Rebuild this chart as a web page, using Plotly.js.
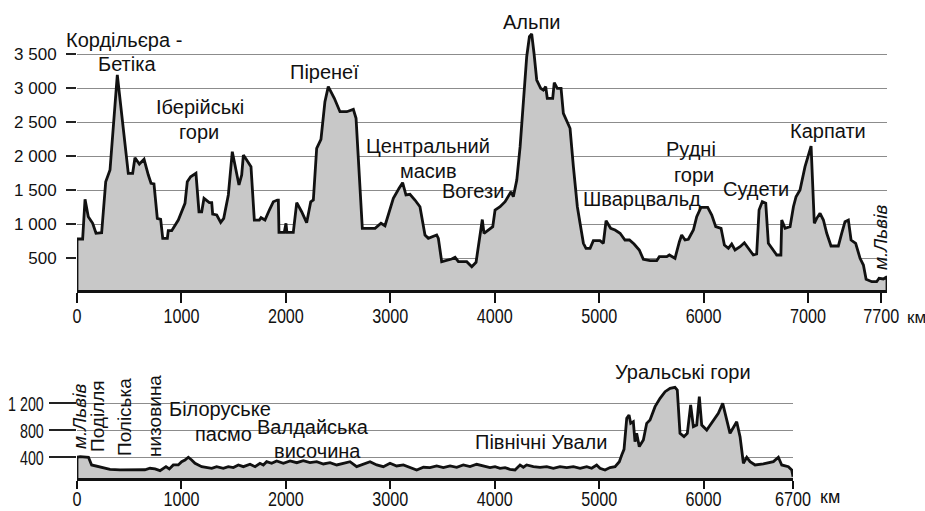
<!DOCTYPE html>
<html>
<head>
<meta charset="utf-8">
<script src="https://cdn.plot.ly/plotly-3.0.1.min.js"></script>
<style>html,body{margin:0;padding:0;background:#fff;}#chart{width:925px;height:511px;}</style>
</head>
<body>
<div id="chart"></div>
<script>
// ---- Data: elevation profiles (km from start, metres) ----
const topKm = [0, 0, 54, 77, 108, 150, 182, 236, 275, 316, 386, 435, 491, 533, 555, 597, 642, 683, 709, 737, 769, 801, 821, 865, 874, 907, 970, 1034, 1056, 1088, 1139, 1168, 1194, 1216, 1248, 1267, 1290, 1299, 1338, 1376, 1405, 1449, 1487, 1523, 1551, 1577, 1593, 1625, 1666, 1698, 1746, 1762, 1800, 1842, 1880, 1918, 1928, 1934, 1985, 2001, 2010, 2071, 2104, 2151, 2199, 2238, 2263, 2295, 2336, 2374, 2406, 2464, 2518, 2583, 2646, 2672, 2732, 2854, 2911, 2949, 3029, 3084, 3118, 3150, 3188, 3236, 3284, 3332, 3364, 3444, 3460, 3492, 3556, 3588, 3620, 3652, 3732, 3780, 3821, 3850, 3881, 3897, 3939, 3981, 4003, 4051, 4099, 4130, 4156, 4178, 4211, 4243, 4274, 4306, 4332, 4354, 4376, 4402, 4440, 4465, 4488, 4503, 4555, 4570, 4599, 4635, 4657, 4695, 4721, 4753, 4791, 4817, 4849, 4874, 4913, 4944, 5008, 5040, 5066, 5110, 5152, 5200, 5247, 5290, 5334, 5384, 5423, 5487, 5551, 5576, 5647, 5672, 5726, 5768, 5790, 5822, 5854, 5902, 5934, 5975, 6039, 6078, 6116, 6167, 6199, 6237, 6269, 6301, 6349, 6390, 6429, 6476, 6508, 6531, 6562, 6595, 6620, 6658, 6700, 6740, 6748, 6780, 6828, 6860, 6885, 6923, 6971, 7029, 7060, 7083, 7115, 7147, 7179, 7220, 7290, 7322, 7354, 7386, 7412, 7456, 7498, 7530, 7556, 7610, 7657, 7680, 7721, 7756, 7756];
const topM = [0, 784, 784, 1368, 1112, 1015, 868, 876, 1626, 1798, 3196, 2534, 1750, 1750, 1979, 1887, 1956, 1725, 1603, 1593, 1088, 1074, 794, 794, 906, 906, 1063, 1309, 1626, 1700, 1750, 1185, 1185, 1382, 1332, 1318, 1318, 1151, 1137, 1029, 1088, 1431, 2068, 1798, 1578, 1725, 2019, 1946, 1847, 1063, 1063, 1097, 1063, 1210, 1332, 1357, 1357, 882, 882, 1015, 882, 882, 1318, 1185, 1024, 1332, 1357, 2118, 2250, 2803, 3024, 2853, 2656, 2656, 2691, 2559, 941, 941, 1015, 979, 1382, 1529, 1612, 1431, 1441, 1357, 1259, 843, 794, 843, 794, 450, 475, 490, 515, 450, 450, 376, 441, 721, 1070, 868, 916, 965, 1210, 1259, 1332, 1406, 1479, 1406, 1651, 2141, 2876, 3465, 3759, 3799, 3515, 3122, 3000, 2975, 3024, 2853, 2853, 3082, 3000, 3000, 2632, 2485, 2412, 1847, 1259, 1015, 721, 647, 647, 759, 759, 721, 1053, 941, 916, 868, 769, 769, 710, 622, 485, 465, 465, 524, 524, 549, 500, 744, 843, 769, 780, 916, 1112, 1250, 1250, 1137, 965, 941, 696, 647, 710, 622, 671, 729, 647, 549, 563, 1210, 1332, 1309, 721, 632, 549, 549, 1063, 941, 965, 1259, 1406, 1504, 1847, 2151, 1015, 1088, 1162, 1063, 868, 681, 681, 868, 1038, 1063, 769, 721, 500, 401, 191, 156, 156, 206, 196, 229, 0];

const botKm = [0, 0, 30, 60, 110, 140, 172, 236, 316, 412, 572, 650, 699, 747, 795, 827, 852, 884, 922, 970, 1002, 1034, 1066, 1098, 1130, 1194, 1242, 1290, 1337, 1401, 1449, 1497, 1545, 1593, 1657, 1705, 1752, 1784, 1816, 1864, 1912, 1976, 2040, 2104, 2167, 2231, 2295, 2359, 2423, 2487, 2550, 2614, 2678, 2742, 2806, 2870, 2933, 2997, 3061, 3125, 3189, 3253, 3317, 3380, 3444, 3508, 3572, 3636, 3699, 3763, 3827, 3891, 3955, 4003, 4051, 4099, 4146, 4194, 4242, 4274, 4306, 4370, 4434, 4498, 4561, 4625, 4689, 4753, 4817, 4881, 4928, 4976, 5008, 5056, 5104, 5152, 5193, 5216, 5238, 5264, 5286, 5302, 5327, 5343, 5359, 5384, 5423, 5455, 5487, 5535, 5583, 5631, 5679, 5726, 5748, 5774, 5812, 5844, 5876, 5902, 5934, 5959, 5982, 6030, 6094, 6141, 6183, 6221, 6253, 6317, 6349, 6381, 6413, 6445, 6493, 6572, 6668, 6716, 6748, 6812, 6844, 6856];
const botM = [0, 400, 410, 405, 400, 286, 276, 252, 222, 212, 212, 215, 237, 227, 202, 237, 262, 227, 286, 286, 335, 360, 400, 360, 311, 261, 252, 237, 261, 237, 261, 247, 286, 261, 296, 261, 311, 286, 335, 311, 345, 311, 345, 320, 350, 320, 335, 301, 320, 286, 311, 335, 261, 301, 335, 286, 261, 311, 271, 286, 252, 212, 252, 247, 271, 247, 271, 252, 286, 261, 296, 271, 247, 261, 237, 247, 222, 212, 286, 252, 286, 261, 252, 261, 237, 261, 247, 261, 237, 261, 237, 286, 237, 212, 247, 261, 335, 434, 518, 977, 1026, 903, 928, 632, 755, 558, 656, 903, 952, 1150, 1273, 1372, 1421, 1436, 1397, 755, 705, 755, 1174, 853, 878, 1298, 878, 804, 952, 1051, 1199, 952, 755, 927, 705, 311, 400, 335, 286, 301, 335, 400, 286, 261, 212, 110];

const topYTicks = [500, 1000, 1500, 2000, 2500, 3000, 3500];
const topYText = ['500', '1 000', '1 500', '2 000', '2 500', '3 000', '3 500'];
const topXTicks = [0, 1000, 2000, 3000, 4000, 5000, 6000, 7000, 7700];
const topXText = ['0', '1000', '2000', '3000', '4000', '5000', '6000', '7000', '7700'];
const botYTicks = [400, 800, 1200];
const botYText = ['400', '800', '1 200'];
const botXText = ['0', '1000', '2000', '3000', '4000', '5000', '6000', '6700'];
const botXTicks = [0, 1000, 2000, 3000, 4000, 5000, 6000, botKm[botKm.length - 1]];

const topLabels = ['Кордільєра -', 'Бетіка', 'Іберійські', 'гори', 'Піренеї', 'Центральний', 'масив', 'Вогези', 'Альпи', 'Шварцвальд', 'Рудні', 'гори', 'Судети', 'Карпати'];
const botLabels = ['Білоруське', 'пасмо', 'Валдайська', 'височина', 'Північні Ували', 'Уральські гори'];
const vertLabels = ['<i>м.Львів</i>', '<i>м.Львів</i>', 'Поділля', 'Поліська', 'низовина'];
const unitLabel = 'км';

// ---- Layout helpers (pixel positions of text) ----
const W = 925, H = 511, L = 77, R = 38;
const PW = W - L - R;
const px = x => (x - L) / PW;
const py = y => 1 - y / H;

const sans = 'Liberation Sans, Arial, Helvetica, sans-serif';

const topPos = [[124, 40], [127, 64], [200, 107], [199, 132], [324, 72], [428, 146], [428, 171], [473, 191], [531, 22], [642, 199], [691, 149], [694, 175], [756, 189], [828, 131]];
const botPos = [[220, 409], [223, 434], [313, 427], [317, 451], [541, 442], [683, 372]];
const vertPos = [[880, 238], [79, 417], [97, 416], [124, 417], [154, 416]];

const annotations = [];
topLabels.forEach((t, i) => annotations.push({text: t, xref: 'paper', yref: 'paper', x: px(topPos[i][0]), y: py(topPos[i][1]), xanchor: 'center', yanchor: 'middle', showarrow: false, font: {family: sans, size: 20, color: '#111'}}));
botLabels.forEach((t, i) => annotations.push({text: t, xref: 'paper', yref: 'paper', x: px(botPos[i][0]), y: py(botPos[i][1]), xanchor: 'center', yanchor: 'middle', showarrow: false, font: {family: sans, size: 20, color: '#111'}}));
vertLabels.forEach((t, i) => annotations.push({text: t, xref: 'paper', yref: 'paper', x: px(vertPos[i][0]), y: py(vertPos[i][1]), xanchor: 'center', yanchor: 'middle', textangle: -90, showarrow: false, font: {family: sans, size: 19, color: '#111'}}));
annotations.push({text: unitLabel, xref: 'paper', yref: 'paper', x: px(916), y: py(317), xanchor: 'center', yanchor: 'middle', showarrow: false, font: {family: sans, size: 17, color: '#111'}});
annotations.push({text: unitLabel, xref: 'paper', yref: 'paper', x: px(830), y: py(497), xanchor: 'center', yanchor: 'middle', showarrow: false, font: {family: sans, size: 18, color: '#111'}});

const areaStyle = {mode: 'lines', fill: 'tozeroy', fillcolor: '#c8c8c8', line: {color: '#111', width: 2.8}, hoverinfo: 'skip'};

const traces = [
  Object.assign({x: topKm, y: topM, xaxis: 'x', yaxis: 'y'}, areaStyle),
  Object.assign({x: botKm, y: botM, xaxis: 'x2', yaxis: 'y2'}, areaStyle)
];

const topBottomPx = 290, topTopPx = 15, botBottomPx = 478, botTopPx = 365;
const layout = {
  width: W, height: H,
  margin: {l: L, r: R, t: 0, b: 0},
  paper_bgcolor: '#fff', plot_bgcolor: 'rgba(0,0,0,0)',
  showlegend: false,
  xaxis: {domain: [0, 1], anchor: 'y', range: [0, 7756], tickvals: topXTicks, ticktext: topXText,
    ticks: 'outside', ticklen: 10, tickwidth: 2, tickcolor: '#111', showline: true, linewidth: 3, linecolor: '#111',
    showgrid: false, zeroline: false, tickfont: {family: sans, size: 21, color: '#111'}, ticklabelstandoff: -5},
  yaxis: {domain: [py(topBottomPx), py(topTopPx)], anchor: 'x', range: [34, 4078], tickvals: topYTicks, ticktext: topYText,
    ticks: 'outside', ticklen: 10, tickwidth: 2, tickcolor: '#222', showline: false, zeroline: false,
    showgrid: true, gridcolor: '#8c8c8c', gridwidth: 1.5, tickfont: {family: sans, size: 17, color: '#111'}, ticklabelstandoff: 6},
  xaxis2: {domain: [0, px(793)], anchor: 'y2', range: [0, 6856], tickvals: botXTicks, ticktext: botXText,
    ticks: 'outside', ticklen: 8, tickwidth: 2, tickcolor: '#111', showline: true, linewidth: 3, linecolor: '#111',
    showgrid: false, zeroline: false, tickfont: {family: sans, size: 21, color: '#111'}, ticklabelstandoff: -8},
  yaxis2: {domain: [py(botBottomPx), py(botTopPx)], anchor: 'x2', range: [93, 1767], tickvals: botYTicks, ticktext: botYText,
    ticks: 'outside', ticklen: 27, tickwidth: 2, tickcolor: '#222', showline: false, zeroline: false,
    showgrid: true, gridcolor: '#8c8c8c', gridwidth: 1.5, tickfont: {family: sans, size: 21, color: '#111'}, ticklabelstandoff: 1},
  annotations: annotations
};

// horizontally condense some labels (the reference uses a narrow typeface)
function condense(el, factor) {
  const w = el.getComputedTextLength();
  if (w > 0) {
    el.setAttribute('textLength', (w * factor).toFixed(2));
    el.setAttribute('lengthAdjust', 'spacingAndGlyphs');
  }
}

Plotly.newPlot('chart', traces, layout, {staticPlot: true, displayModeBar: false}).then(gd => {
  gd.querySelectorAll('.xtick text, .x2tick text').forEach(t => condense(t, 0.77));
  gd.querySelectorAll('.y2tick text').forEach(t => condense(t, 0.68));
});
</script>
</body>
</html>
